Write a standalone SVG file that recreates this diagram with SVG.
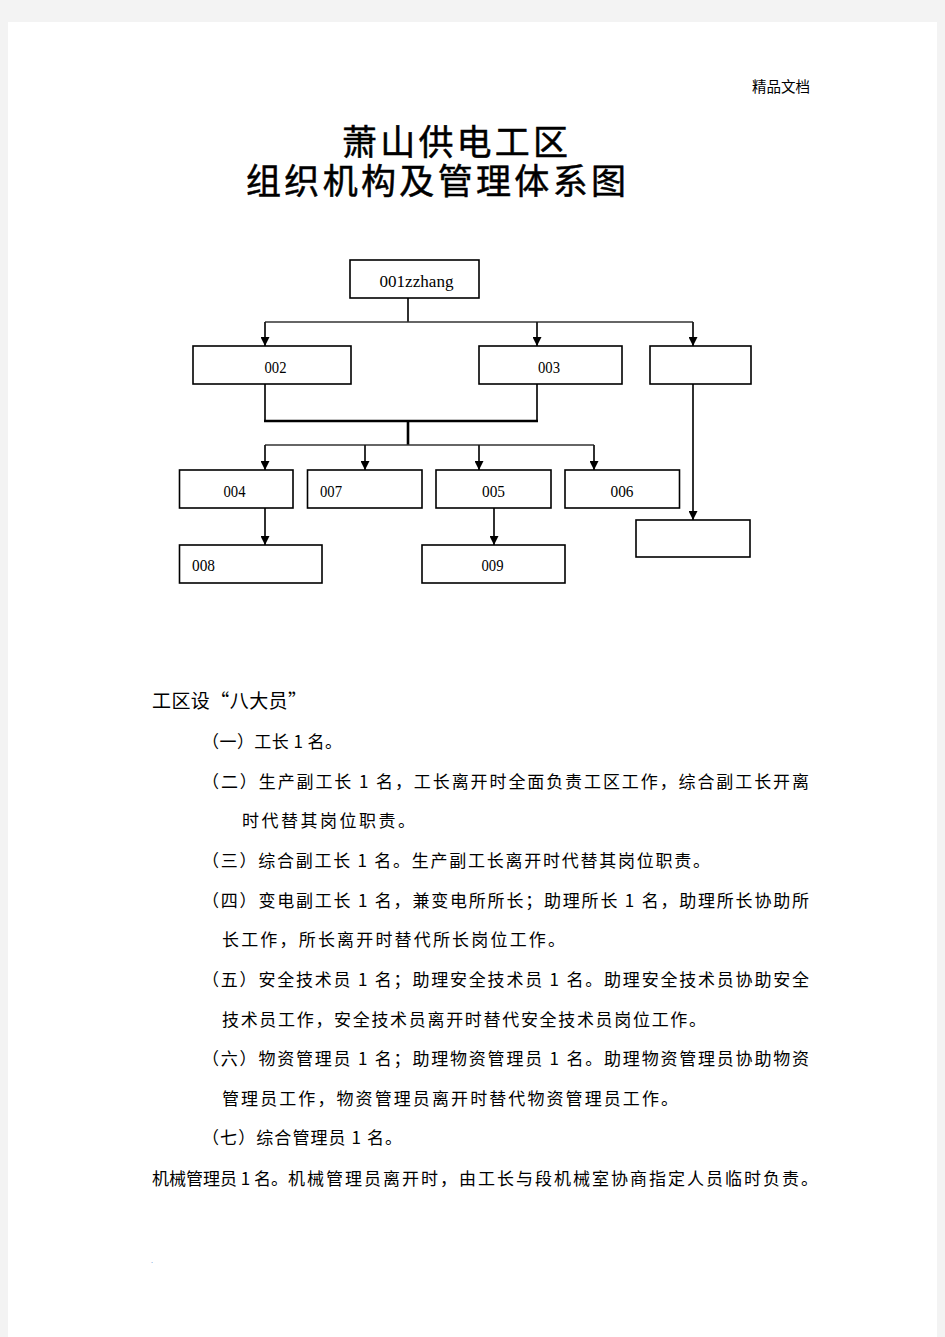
<svg xmlns="http://www.w3.org/2000/svg" width="945" height="1337" viewBox="0 0 945 1337">
<style>
.cjk{font-family:"Noto Sans CJK SC","Noto Sans CJK TC",sans-serif;fill:#000}
.title{font-size:35px}
.body{font-size:17px}
.lbl{font-family:"Liberation Serif","Times New Roman",serif;font-size:16px;fill:#000}
.box{fill:#fff;stroke:#000;stroke-width:1.6}
.ln{fill:none;stroke:#1a1a1a;stroke-width:1.8}
.thin{fill:none;stroke:#333;stroke-width:1.4}
.thick{fill:none;stroke:#000;stroke-width:2.6}
</style>
<defs>
<marker id="arr" viewBox="0 0 10 10" refX="10" refY="5" markerWidth="9" markerHeight="9" markerUnits="userSpaceOnUse" orient="auto">
<path d="M0,0 L10,5 L0,10 z" fill="#000"/>
</marker>
</defs>
<rect x="0" y="0" width="945" height="1337" fill="#f3f3f3"/>
<rect x="8" y="22" width="929" height="1315" fill="#fff"/>

<text class="cjk" x="752" y="92" font-size="14.5" textLength="58" lengthAdjust="spacingAndGlyphs">精品文档</text>

<text class="cjk title" x="342" y="155" textLength="226" lengthAdjust="spacing" stroke="#000" stroke-width="0.5">萧山供电工区</text>
<text class="cjk title" x="246" y="194" textLength="380" lengthAdjust="spacing" stroke="#000" stroke-width="0.5">组织机构及管理体系图</text>

<g id="connectors">
<path class="ln" d="M408,298 V322"/>
<path class="thin" d="M265,322 H693"/>
<path class="ln" d="M265,322 V346" marker-end="url(#arr)"/>
<path class="ln" d="M537,322 V346" marker-end="url(#arr)"/>
<path class="ln" d="M693,322 V346" marker-end="url(#arr)"/>
<path class="ln" d="M265,384 V421 M537,384 V421"/>
<path class="thick" d="M264,421 H538"/>
<path class="thick" d="M408,421 V445"/>
<path class="thin" d="M265,445 H594"/>
<path class="ln" d="M265,445 V470" marker-end="url(#arr)"/>
<path class="ln" d="M365,445 V470" marker-end="url(#arr)"/>
<path class="ln" d="M479,445 V470" marker-end="url(#arr)"/>
<path class="ln" d="M594,445 V470" marker-end="url(#arr)"/>
<path class="ln" d="M693,384 V520" marker-end="url(#arr)"/>
<path class="ln" d="M265,508 V545" marker-end="url(#arr)"/>
<path class="ln" d="M494,508 V545" marker-end="url(#arr)"/>
</g>

<g id="n001"><rect class="box" x="350" y="260" width="129" height="38"/><text class="lbl" x="379.5" y="287" textLength="74" lengthAdjust="spacingAndGlyphs">001zzhang</text></g>
<g id="n002"><rect class="box" x="193" y="346" width="158" height="38"/><text class="lbl" x="264.5" y="372.5" textLength="22" lengthAdjust="spacingAndGlyphs">002</text></g>
<g id="n003"><rect class="box" x="479" y="346" width="143" height="38"/><text class="lbl" x="538" y="372.5" textLength="22" lengthAdjust="spacingAndGlyphs">003</text></g>
<g id="nright"><rect class="box" x="650" y="346" width="101" height="38"/></g>
<g id="n004"><rect class="box" x="179.5" y="470" width="113.5" height="38"/><text class="lbl" x="223.5" y="496.5" textLength="22" lengthAdjust="spacingAndGlyphs">004</text></g>
<g id="n007"><rect class="box" x="307.5" y="470" width="114.5" height="38"/><text class="lbl" x="320" y="496.5" textLength="22" lengthAdjust="spacingAndGlyphs">007</text></g>
<g id="n005"><rect class="box" x="436" y="470" width="115" height="38"/><text class="lbl" x="482" y="496.5" textLength="23" lengthAdjust="spacingAndGlyphs">005</text></g>
<g id="n006"><rect class="box" x="565" y="470" width="114.5" height="38"/><text class="lbl" x="610.5" y="496.5" textLength="23" lengthAdjust="spacingAndGlyphs">006</text></g>
<g id="nrightlow"><rect class="box" x="636" y="520" width="114" height="37"/></g>
<g id="n008"><rect class="box" x="179.5" y="545" width="142.5" height="38"/><text class="lbl" x="192" y="570.5" textLength="23" lengthAdjust="spacingAndGlyphs">008</text></g>
<g id="n009"><rect class="box" x="422" y="545" width="143" height="38"/><text class="lbl" x="481.5" y="570.5" textLength="22" lengthAdjust="spacingAndGlyphs">009</text></g>

<g id="body">
<text class="cjk" x="152" y="708" font-size="19" textLength="155" lengthAdjust="spacing">工区设“八大员”</text>
<text class="cjk body" x="202" y="748" textLength="140" lengthAdjust="spacing">（一）工长 1 名。</text>
<text class="cjk body" x="202" y="788" textLength="607" lengthAdjust="spacing">（二）生产副工长 1 名，工长离开时全面负责工区工作，综合副工长开离</text>
<text class="cjk body" x="242" y="827" textLength="173" lengthAdjust="spacing">时代替其岗位职责。</text>
<text class="cjk body" x="202" y="867" textLength="508" lengthAdjust="spacing">（三）综合副工长 1 名。生产副工长离开时代替其岗位职责。</text>
<text class="cjk body" x="202" y="907" textLength="607" lengthAdjust="spacing">（四）变电副工长 1 名，兼变电所所长；助理所长 1 名，助理所长协助所</text>
<text class="cjk body" x="222" y="946" textLength="343" lengthAdjust="spacing">长工作，所长离开时替代所长岗位工作。</text>
<text class="cjk body" x="202" y="986" textLength="607" lengthAdjust="spacing">（五）安全技术员 1 名；助理安全技术员 1 名。助理安全技术员协助安全</text>
<text class="cjk body" x="222" y="1026" textLength="484" lengthAdjust="spacing">技术员工作，安全技术员离开时替代安全技术员岗位工作。</text>
<text class="cjk body" x="202" y="1065" textLength="607" lengthAdjust="spacing">（六）物资管理员 1 名；助理物资管理员 1 名。助理物资管理员协助物资</text>
<text class="cjk body" x="222" y="1105" textLength="456" lengthAdjust="spacing">管理员工作，物资管理员离开时替代物资管理员工作。</text>
<text class="cjk body" x="202" y="1144" textLength="200" lengthAdjust="spacing">（七）综合管理员 1 名。</text>
<text class="cjk body" x="152" y="1185" textLength="136" lengthAdjust="spacing">机械管理员 1 名。</text>
<text class="cjk body" x="288" y="1185" textLength="530" lengthAdjust="spacing">机械管理员离开时，由工长与段机械室协商指定人员临时负责。</text>
<text x="151" y="1263" font-family="Liberation Sans, sans-serif" font-size="7" fill="#3b6cc4">.</text>
</g>
</svg>
